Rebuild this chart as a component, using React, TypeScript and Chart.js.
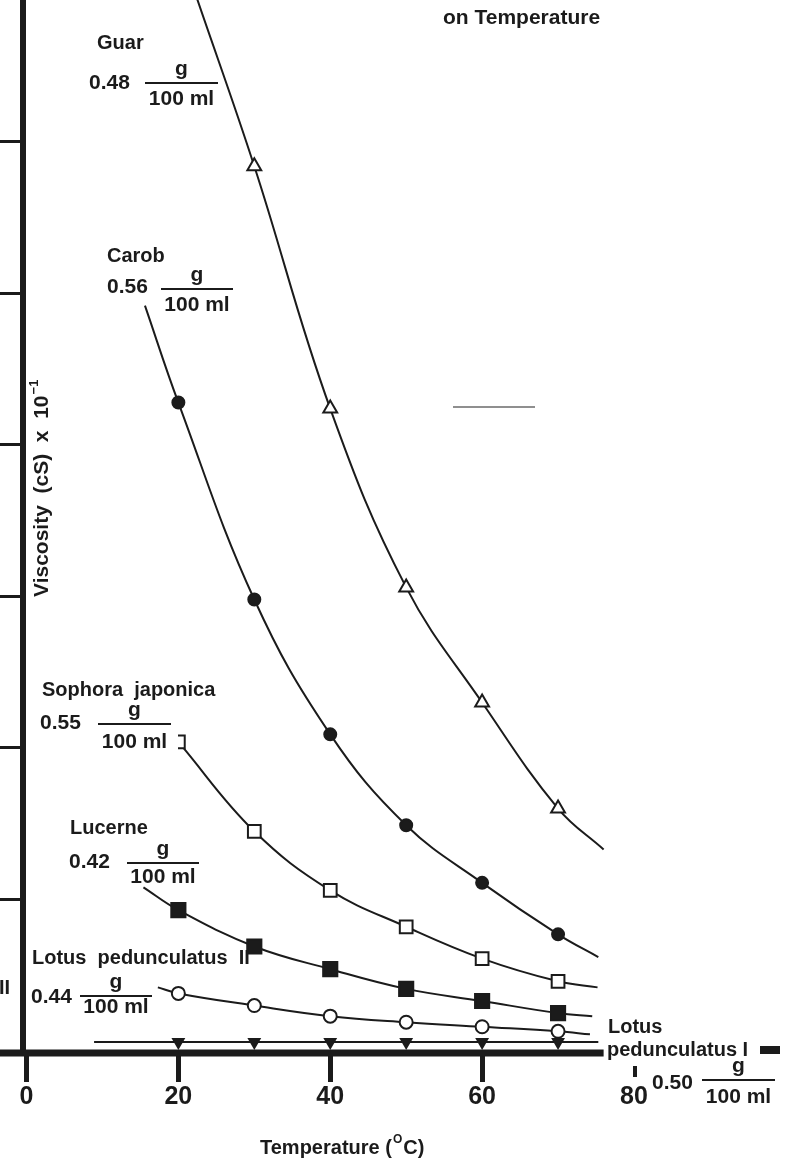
import React, { useEffect, useRef } from 'react';
import { Chart, registerables } from 'chart.js';

Chart.register(...registerables);

// Measurement temperatures (°C)
const temperatures = [20, 30, 40, 50, 60, 70];

// Viscosity (cS x 10^-1, axis units) of each gum solution at those temperatures
const guar = [null, 5.84, 4.24, 3.06, 2.3, 1.6];
const carob = [4.28, 2.98, 2.09, 1.49, 1.11, 0.77];
const sophora = [2.04, 1.45, 1.06, 0.82, 0.61, 0.46];
const lucerne = [0.93, 0.69, 0.54, 0.41, 0.33, 0.25];
const lotusII = [0.38, 0.3, 0.23, 0.19, 0.16, 0.13];
const lotusI = [0.06, 0.06, 0.06, 0.06, 0.06, 0.06];

// Where each hand-fitted curve begins and ends [°C, viscosity]
const guarCurve = [[22.5, 6.94], [76.0, 1.33]];
const carobCurve = [[15.6, 4.92], [75.3, 0.62]];
const sophoraCurve = [null, [75.2, 0.42]];
const lucerneCurve = [[15.4, 1.08], [74.5, 0.23]];
const lotusIICurve = [[17.3, 0.42], [74.2, 0.11]];
const lotusICurve = [[8.9, 0.06], [75.3, 0.06]];

const xTicks = [0, 20, 40, 60, 80];
const yTicks = [0, 1, 2, 3, 4, 5, 6];
const xAxisEnd = 76;

const FONT = '"Liberation Sans", Arial, sans-serif';
const INK = '#1b1b1b';

type Pt = { x: number; y: number; measured: boolean };

function curvePoints(values: (number | null)[], ends: (number[] | null)[]): Pt[] {
  const pts: Pt[] = [];
  if (ends[0]) pts.push({ x: ends[0][0], y: ends[0][1], measured: false });
  temperatures.forEach((t, i) => {
    const v = values[i];
    if (v != null) pts.push({ x: t, y: v, measured: true });
  });
  if (ends[1]) pts.push({ x: ends[1][0], y: ends[1][1], measured: false });
  return pts;
}

function series(values: (number | null)[], ends: (number[] | null)[], style: any, radius: number, open: boolean) {
  return {
    data: curvePoints(values, ends),
    showLine: true,
    borderColor: INK,
    borderWidth: 2,
    tension: 0.4,
    pointStyle: style.shape,
    rotation: style.rotation || 0,
    pointRadius: (c: any) => (c.raw && c.raw.measured ? radius : 0),
    pointBackgroundColor: open ? '#ffffff' : INK,
    pointBorderColor: INK,
    pointBorderWidth: 2,
  };
}

type Label = {
  lines: [string, number, number][];
  conc: [string, number, number];
  frac: [number, number, number];
  denY: number;
};

// Species name and concentration (g / 100 ml) printed beside each curve
const concLabels: Label[] = [
  { lines: [['Guar', 97, 43]], conc: ['0.48', 89, 83], frac: [145, 218, 83], denY: 99 },
  { lines: [['Carob', 107, 256]], conc: ['0.56', 107, 287], frac: [161, 233, 289], denY: 305 },
  { lines: [['Sophora  japonica', 42, 690]], conc: ['0.55', 40, 723], frac: [98, 171, 724], denY: 742 },
  { lines: [['Lucerne', 70, 828]], conc: ['0.42', 69, 862], frac: [127, 199, 863], denY: 877 },
  { lines: [['Lotus  pedunculatus  II', 32, 958]], conc: ['0.44', 31, 997], frac: [80, 152, 996], denY: 1007 },
  {
    lines: [['Lotus', 608, 1027], ['pedunculatus I', 607, 1050]],
    conc: ['0.50', 652, 1083],
    frac: [702, 775, 1080],
    denY: 1097,
  },
];

const paperText = {
  id: 'paperText',
  afterDraw(chart: any) {
    const { ctx, scales } = chart;
    const xs = scales.x;
    const ys = scales.y;
    const y0 = ys.getPixelForValue(0);
    ctx.save();

    // heavy temperature axis
    ctx.strokeStyle = INK;
    ctx.lineWidth = 7;
    ctx.beginPath();
    ctx.moveTo(0, y0 + 2);
    ctx.lineTo(xs.getPixelForValue(xAxisEnd), y0 + 2);
    ctx.stroke();

    // short mark above the last temperature label
    const x80 = xs.getPixelForValue(80) + 1;
    ctx.lineWidth = 4;
    ctx.beginPath();
    ctx.moveTo(x80, y0 + 15);
    ctx.lineTo(x80, y0 + 26);
    ctx.stroke();

    // faint stray stroke
    ctx.strokeStyle = '#8f8f8f';
    ctx.lineWidth = 2;
    ctx.beginPath();
    ctx.moveTo(453, 407);
    ctx.lineTo(535, 407);
    ctx.stroke();

    // pasted label patch over the first Sophora marker
    ctx.fillStyle = '#ffffff';
    ctx.fillRect(38, 676, 140, 78);

    ctx.fillStyle = INK;
    ctx.strokeStyle = INK;
    ctx.textBaseline = 'middle';
    ctx.textAlign = 'left';

    // title line
    ctx.font = `bold 21px ${FONT}`;
    ctx.fillText('on Temperature', 443, 18);

    // axis titles
    ctx.font = `bold 20px ${FONT}`;
    let tx = 260;
    const ty = 1148;
    ctx.fillText('Temperature (', tx, ty);
    tx += ctx.measureText('Temperature (').width;
    ctx.font = `bold 12px ${FONT}`;
    ctx.fillText('O', tx + 1, ty - 8);
    tx += ctx.measureText('O').width + 2;
    ctx.font = `bold 20px ${FONT}`;
    ctx.fillText('C)', tx, ty);

    ctx.save();
    ctx.translate(42, 597);
    ctx.rotate(-Math.PI / 2);
    ctx.font = `bold 21px ${FONT}`;
    const yTitle = 'Viscosity  (cS)  x  10';
    ctx.fillText(yTitle, 0, 0);
    const w = ctx.measureText(yTitle).width;
    ctx.font = `bold 13px ${FONT}`;
    ctx.fillText('\u22121', w + 1, -8);
    ctx.restore();

    // curve labels
    for (const lb of concLabels) {
      ctx.font = `bold 20px ${FONT}`;
      ctx.textAlign = 'left';
      for (const [t, x, y] of lb.lines) ctx.fillText(t, x, y);
      ctx.font = `bold 21px ${FONT}`;
      ctx.fillText(lb.conc[0], lb.conc[1], lb.conc[2]);
      const [x1, x2, ly] = lb.frac;
      ctx.lineWidth = 2;
      ctx.beginPath();
      ctx.moveTo(x1, ly);
      ctx.lineTo(x2, ly);
      ctx.stroke();
      ctx.textAlign = 'center';
      ctx.textBaseline = 'alphabetic';
      ctx.fillText('g', (x1 + x2) / 2, ly - 8);
      ctx.textBaseline = 'middle';
      ctx.fillText('100 ml', (x1 + x2) / 2, lb.denY);
    }
    ctx.textAlign = 'left';

    // block after the Lotus pedunculatus I name, and cut-off text at the left edge
    ctx.fillRect(760, 1046, 20, 8);
    ctx.font = `bold 20px ${FONT}`;
    ctx.fillText('II', -1, 988);

    ctx.restore();
  },
};

export default function App() {
  const canvasRef = useRef<HTMLCanvasElement | null>(null);

  useEffect(() => {
    document.body.style.margin = '0';
    const canvas = canvasRef.current;
    if (!canvas) return;

    const chart = new Chart(canvas, {
      type: 'scatter',
      data: {
        datasets: [
          series(guar, guarCurve, { shape: 'triangle' }, 8, true),
          series(carob, carobCurve, { shape: 'circle' }, 6, false),
          series(sophora, sophoraCurve, { shape: 'rect' }, 9, true),
          series(lucerne, lucerneCurve, { shape: 'rect' }, 10, false),
          series(lotusII, lotusIICurve, { shape: 'circle' }, 6.5, true),
          series(lotusI, lotusICurve, { shape: 'triangle', rotation: 180 }, 6, false),
        ] as any,
      },
      options: {
        animation: false,
        responsive: false,
        devicePixelRatio: 1,
        events: [],
        layout: { autoPadding: false, padding: { left: 0, right: 156, top: 0, bottom: 51 } },
        plugins: { legend: { display: false }, tooltip: { enabled: false }, title: { display: false } },
        scales: {
          x: {
            type: 'linear',
            min: -0.46,
            max: 80,
            afterBuildTicks: (s: any) => {
              s.ticks = xTicks.map((v) => ({ value: v }));
            },
            grid: {
              drawOnChartArea: false,
              tickLength: 31,
              tickWidth: 5,
              tickColor: (c: any) => (c.tick && c.tick.value === 80 ? 'rgba(0,0,0,0)' : INK),
            },
            border: { display: false },
            ticks: {
              padding: 0,
              maxRotation: 0,
              autoSkip: false,
              color: INK,
              font: { family: FONT, size: 25, weight: 'bold' },
              callback: (v: any) => String(v),
            },
          },
          y: {
            type: 'linear',
            min: 0,
            max: 6.937,
            afterBuildTicks: (s: any) => {
              s.ticks = yTicks.map((v) => ({ value: v }));
            },
            grid: { drawOnChartArea: false, tickLength: 23, tickWidth: 3, tickColor: INK },
            border: { display: true, width: 6, color: INK },
            ticks: { display: false },
          },
        },
      } as any,
      plugins: [paperText],
    });

    return () => chart.destroy();
  }, []);

  return (
    <div style={{ width: 790, height: 1163, background: '#ffffff' }}>
      <canvas ref={canvasRef} width={790} height={1163} style={{ display: 'block' }} />
    </div>
  );
}
